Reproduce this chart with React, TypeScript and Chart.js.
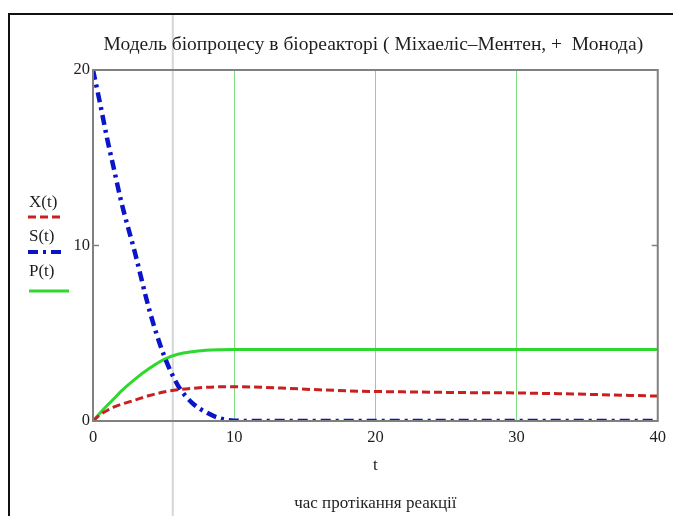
import { useEffect, useRef } from "react";
import { Chart, registerables } from "chart.js";

Chart.register(...registerables);

const TITLE = "Модель біопроцесу в біореакторі ( Міхаеліс–Ментен, +  Монода)";
const X_AXIS_VAR = "t";
const X_AXIS_CAPTION = "час протікання реакції";
const seriesLabels = ["X(t)", "S(t)", "P(t)"];

const timePoints = [0, 0.5, 1, 1.5, 2, 3, 4, 5, 6, 7, 8, 9, 10, 12, 14, 16, 18, 20, 22, 24, 26, 28, 30, 32, 34, 36, 38, 40];
const biomassX = [0, 0.35, 0.6, 0.8, 0.95, 1.2, 1.45, 1.65, 1.78, 1.86, 1.92, 1.95, 1.95, 1.92, 1.85, 1.78, 1.72, 1.68, 1.66, 1.64, 1.62, 1.61, 1.6, 1.57, 1.54, 1.5, 1.46, 1.42];
const substrateS = [20, 18.1, 16.1, 14.3, 12.5, 9.5, 6.3, 3.8, 2.05, 1.05, 0.5, 0.15, 0.02, 0, 0, 0, 0, 0, 0, 0, 0, 0, 0, 0, 0, 0, 0, 0];
const productP = [0, 0.45, 0.88, 1.28, 1.7, 2.4, 3.0, 3.5, 3.8, 3.95, 4.03, 4.06, 4.07, 4.07, 4.07, 4.07, 4.07, 4.07, 4.07, 4.07, 4.07, 4.07, 4.07, 4.07, 4.07, 4.07, 4.07, 4.07];

const xMin = 0;
const xMax = 40;
const xStep = 10;
const yMin = 0;
const yMax = 20;
const yStep = 10;
const cursorT = 5.65;

const FONT = "'Liberation Serif', 'Times New Roman', serif";

const COLORS = {
  x: "#c82020",
  s: "#0a14c8",
  p: "#2ed82e",
  grid: "#80dc80",
  border: "#808080",
  cursor: "#d6d6d6",
  text: "#1e1e1e",
};

const DASH_X = [8, 4];
const DASH_S = [10, 5, 3, 5];

const decorPlugin = {
  id: "decor",
  beforeDraw(chart: any) {
    const { ctx, width, height, scales } = chart;
    ctx.save();
    ctx.fillStyle = "#ffffff";
    ctx.fillRect(0, 0, width, height);
    const cx = scales.x.getPixelForValue(cursorT);
    ctx.strokeStyle = COLORS.cursor;
    ctx.lineWidth = 2;
    ctx.beginPath();
    ctx.moveTo(cx, 14);
    ctx.lineTo(cx, height);
    ctx.stroke();
    ctx.strokeStyle = "#111111";
    ctx.lineWidth = 2;
    ctx.beginPath();
    ctx.moveTo(9, height);
    ctx.lineTo(9, 14);
    ctx.lineTo(width, 14);
    ctx.stroke();
    ctx.restore();
  },
  afterDatasetsDraw(chart: any) {
    const { ctx, chartArea, scales } = chart;
    const { left, right, top, bottom } = chartArea;
    ctx.save();
    ctx.strokeStyle = COLORS.border;
    ctx.lineWidth = 2;
    ctx.strokeRect(left, top, right - left, bottom - top);
    const ty = scales.y.getPixelForValue(10);
    ctx.lineWidth = 1.5;
    ctx.beginPath();
    ctx.moveTo(left, ty);
    ctx.lineTo(left + 6, ty);
    ctx.moveTo(right, ty);
    ctx.lineTo(right - 6, ty);
    ctx.stroke();
    ctx.restore();
  },
  afterDraw(chart: any) {
    const { ctx, chartArea } = chart;
    ctx.save();
    ctx.fillStyle = COLORS.text;
    ctx.font = `19.5px ${FONT}`;
    ctx.textAlign = "center";
    ctx.textBaseline = "middle";
    ctx.fillText(TITLE, (chartArea.left + chartArea.right) / 2 - 2, 45);

    const items = [
      { label: seriesLabels[0], color: COLORS.x, dash: DASH_X, w: 3, ty: 203, ly: 217, x1: 28, x2: 63 },
      { label: seriesLabels[1], color: COLORS.s, dash: DASH_S, w: 4, ty: 237, ly: 252, x1: 28, x2: 65 },
      { label: seriesLabels[2], color: COLORS.p, dash: [], w: 3, ty: 272, ly: 291, x1: 29, x2: 69 },
    ];
    ctx.font = `17px ${FONT}`;
    ctx.textAlign = "left";
    for (const it of items) {
      ctx.fillStyle = COLORS.text;
      ctx.fillText(it.label, 29, it.ty);
      ctx.strokeStyle = it.color;
      ctx.lineWidth = it.w;
      ctx.setLineDash(it.dash);
      ctx.beginPath();
      ctx.moveTo(it.x1, it.ly);
      ctx.lineTo(it.x2, it.ly);
      ctx.stroke();
    }
    ctx.setLineDash([]);
    ctx.restore();
  },
};

function toPoints(values: number[]) {
  return timePoints.map((t, i) => ({ x: t, y: values[i] }));
}

export default function App() {
  const canvasRef = useRef<HTMLCanvasElement | null>(null);

  useEffect(() => {
    if (!canvasRef.current) return;
    const chart = new Chart(canvasRef.current, {
      type: "line",
      data: {
        datasets: [
          {
            label: seriesLabels[0],
            data: toPoints(biomassX),
            borderColor: COLORS.x,
            borderWidth: 3,
            borderDash: DASH_X,
            pointRadius: 0,
            cubicInterpolationMode: "monotone",
            fill: false,
          },
          {
            label: seriesLabels[1],
            data: toPoints(substrateS),
            borderColor: COLORS.s,
            borderWidth: 4.5,
            borderDash: DASH_S,
            pointRadius: 0,
            cubicInterpolationMode: "monotone",
            fill: false,
          },
          {
            label: seriesLabels[2],
            data: toPoints(productP),
            borderColor: COLORS.p,
            borderWidth: 3,
            pointRadius: 0,
            cubicInterpolationMode: "monotone",
            fill: false,
          },
        ],
      },
      options: {
        animation: false,
        responsive: true,
        maintainAspectRatio: false,
        layout: { padding: { top: 70, right: 14, left: 0, bottom: 0 } },
        plugins: {
          legend: { display: false },
          title: { display: false },
          tooltip: { enabled: false },
        },
        scales: {
          x: {
            type: "linear",
            min: xMin,
            max: xMax,
            ticks: {
              stepSize: xStep,
              padding: 7,
              color: COLORS.text,
              font: { family: FONT, size: 16.5 },
              maxRotation: 0,
            },
            grid: {
              drawTicks: false,
              lineWidth: 1,
              color: (c: any) =>
                c.tick && c.tick.value > xMin && c.tick.value < xMax ? COLORS.grid : "rgba(0,0,0,0)",
            },
            border: { display: false },
            title: {
              display: true,
              text: [X_AXIS_VAR, "", X_AXIS_CAPTION],
              color: COLORS.text,
              font: { family: FONT, size: 17, lineHeight: 19 / 17 },
              padding: { top: 0, bottom: 2.5 },
            },
            afterFit: (scale: any) => {
              scale.height = 95;
            },
          },
          y: {
            type: "linear",
            min: yMin,
            max: yMax,
            ticks: {
              stepSize: yStep,
              padding: 3,
              color: COLORS.text,
              font: { family: FONT, size: 16.5 },
            },
            grid: { display: false, drawTicks: false },
            border: { display: false },
            afterFit: (scale: any) => {
              scale.width = 93;
            },
          },
        },
      },
      plugins: [decorPlugin],
    });
    return () => chart.destroy();
  }, []);

  return (
    <div style={{ position: "absolute", left: 0, top: 0, width: 673, height: 516, background: "#fff" }}>
      <canvas ref={canvasRef} />
    </div>
  );
}
